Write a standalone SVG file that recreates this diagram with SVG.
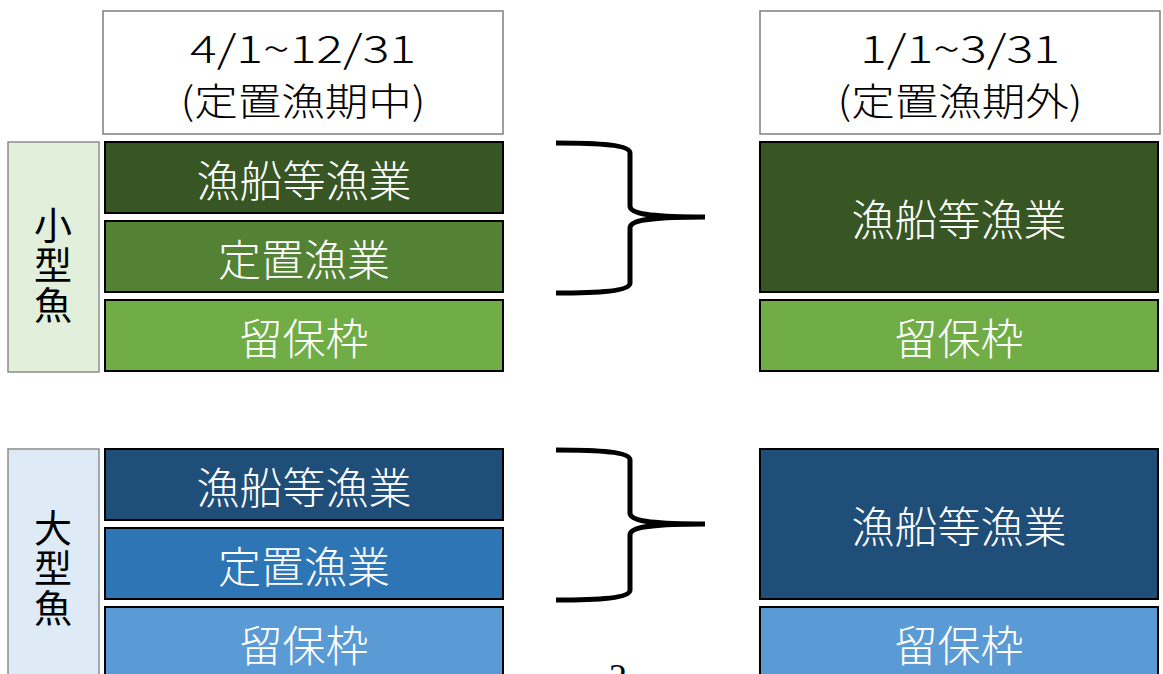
<svg xmlns="http://www.w3.org/2000/svg" width="1163" height="674" viewBox="0 0 1163 674">
<style>
.hdr{fill:#fff;stroke:#7f7f7f;stroke-width:1.5}
.side{stroke:#8c8c8c;stroke-width:1.5}
.row{stroke:#000;stroke-width:2}
.ht{font-family:"Noto Sans CJK JP","Noto Sans",sans-serif;font-size:38px;font-weight:300;fill:#000;text-anchor:middle}
.rt{font-family:"Noto Sans CJK JP",sans-serif;font-size:43px;font-weight:300;fill:#fff;text-anchor:middle;dominant-baseline:central}
.st{font-family:"Noto Sans CJK JP",sans-serif;font-size:38px;font-weight:400;fill:#000;text-anchor:middle;writing-mode:vertical-rl;letter-spacing:2px}
.brace{fill:none;stroke:#000;stroke-width:5}
</style>
<rect width="1163" height="674" fill="#fff"/>
<g id="header-left">
<rect class="hdr" x="103" y="11" width="400" height="123"/>
<text class="ht" x="303" y="63" textLength="226" lengthAdjust="spacingAndGlyphs">4/1~12/31</text>
<text class="ht" x="303" y="115" textLength="245" lengthAdjust="spacingAndGlyphs">(定置漁期中)</text>
</g>
<g id="header-right">
<rect class="hdr" x="760" y="11" width="400" height="123"/>
<text class="ht" x="960" y="63" textLength="200" lengthAdjust="spacingAndGlyphs">1/1~3/31</text>
<text class="ht" x="960" y="115" textLength="245" lengthAdjust="spacingAndGlyphs">(定置漁期外)</text>
</g>
<g id="side-small">
<rect class="side" x="8" y="142" width="91" height="230" fill="#e2efda"/>
<text class="st" x="53" y="266">小型魚</text>
</g>
<g id="side-large">
<rect class="side" x="8" y="449" width="91" height="235" fill="#deebf7"/>
<text class="st" x="53" y="569">大型魚</text>
</g>
<g id="small-left-vessel"><rect class="row" x="105" y="142" width="398" height="71" fill="#375623"/><text class="rt" x="304" y="178">漁船等漁業</text></g>
<g id="small-left-setnet"><rect class="row" x="105" y="221" width="398" height="71" fill="#548235"/><text class="rt" x="304" y="257">定置漁業</text></g>
<g id="small-left-reserve"><rect class="row" x="105" y="300" width="398" height="71" fill="#70ad47"/><text class="rt" x="304" y="336">留保枠</text></g>
<g id="small-right-vessel"><rect class="row" x="760" y="142" width="398" height="150" fill="#375623"/><text class="rt" x="959" y="217">漁船等漁業</text></g>
<g id="small-right-reserve"><rect class="row" x="760" y="300" width="398" height="71" fill="#70ad47"/><text class="rt" x="959" y="336">留保枠</text></g>
<g id="large-left-vessel"><rect class="row" x="105" y="449" width="398" height="71" fill="#1f4e79"/><text class="rt" x="304" y="485">漁船等漁業</text></g>
<g id="large-left-setnet"><rect class="row" x="105" y="528" width="398" height="71" fill="#2e75b6"/><text class="rt" x="304" y="564">定置漁業</text></g>
<g id="large-left-reserve"><rect class="row" x="105" y="607" width="398" height="71" fill="#5b9bd5"/><text class="rt" x="304" y="643">留保枠</text></g>
<g id="large-right-vessel"><rect class="row" x="760" y="449" width="398" height="150" fill="#1f4e79"/><text class="rt" x="959" y="524">漁船等漁業</text></g>
<g id="large-right-reserve"><rect class="row" x="760" y="607" width="398" height="71" fill="#5b9bd5"/><text class="rt" x="959" y="643">留保枠</text></g>
<g id="connectors">
<path class="brace" d="M556,143 C600,143 630,145 630,153 L630,206 C630,214 650,217 705,217 M556,293 C600,293 630,291 630,283 L630,228 C630,220 650,217 705,217"/>
<path class="brace" d="M556,450 C600,450 630,452 630,460 L630,513 C630,521 650,524 705,524 M556,600 C600,600 630,598 630,590 L630,535 C630,527 650,524 705,524"/>
</g>
<text x="618" y="689" font-family="Liberation Serif, serif" font-size="36" text-anchor="middle" fill="#000">2</text>
</svg>
